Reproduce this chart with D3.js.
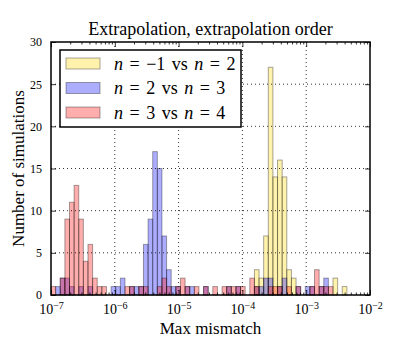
<!DOCTYPE html>
<html>
<head>
<meta charset="utf-8">
<script src="https://cdn.jsdelivr.net/npm/d3@7"></script>
<style>
  body { margin: 0; background: #fff; }
  svg text, svg tspan { font-family: "Liberation Serif", "DejaVu Serif", serif; }
</style>
</head>
<body>
<div id="chart"></div>
<script>
// histogram bins share one log grid: first edge 10^-7, step in decades
const binStart = -7;
const binStep = 5 / 69;

// counts per bin (index 0 = first bin)
const countsYellow = [0,0,0,0,0,0,0,0,0,0, 0,0,0,0,0,0,0,0,0,0,
                      0,0,0,0,0,0,0,0,0,0, 0,0,0,0,0,0,0,0,0,0,
                      0,0,0,0,3,2,7,27,14,16, 14,3,2,0,0,0,0,0,0,0,
                      0,2,0,1];
const countsBlue   = [0,1,2,2,1,0,1,0,1,0, 0,0,0,1,1,2,0,1,1,1,
                      6,9,17,15,7,3,1,1,0,1, 1,0,0,1,0,0,0,0,1,0,
                      1,0,0,0,1,1,2,2,0,1, 2,0,0,1,0,1,1,0,1,2,
                      0,0,0,0];
const countsRed    = [1,0,2,9,11,13,9,4,6,2, 1,1,0,0,0,0,1,1,0,1,
                      1,0,0,1,2,1,0,1,2,1, 0,1,0,1,0,1,0,1,1,1,
                      1,1,0,2,1,0,0,1,1,1, 0,1,0,1,0,0,1,3,1,1,
                      1,0,0,0];

const seriesNames = ["n = \u22121 vs n = 2", "n = 2 vs n = 3", "n = 3 vs n = 4"];
const seriesColors = ["#ffd700", "#0000ff", "#ff0000"];

const xTicks = [1e-7, 1e-6, 1e-5, 1e-4, 1e-3, 1e-2];
const yTicks = [0, 5, 10, 15, 20, 25, 30];

const serif = "Liberation Serif, DejaVu Serif, serif";

const W = 411, H = 337;
const margin = {top: 42, right: 41, bottom: 42, left: 51};
const width = W - margin.left - margin.right,
      height = H - margin.top - margin.bottom;

const svg = d3.select("#chart").append("svg")
    .attr("width", W)
    .attr("height", H)
    .attr("font-family", serif);

const g = svg.append("g")
    .attr("transform", "translate(" + margin.left + "," + margin.top + ")");

const x = d3.scaleLog().domain([1e-7, 1e-2]).range([0, width]);
const y = d3.scaleLinear().domain([0, 30]).range([height, 0]);

// bars
const allCounts = [countsYellow, countsBlue, countsRed];
allCounts.forEach(function(counts, si) {
    const bins = counts.map(function(c, i) {
        return {lo: Math.pow(10, binStart + i * binStep),
                hi: Math.pow(10, binStart + (i + 1) * binStep),
                c: c};
    }).filter(function(d) { return d.c > 0; });

    g.selectAll(".bar" + si)
        .data(bins)
        .enter()
        .append("rect")
        .attr("x", function(d) { return x(d.lo); })
        .attr("y", function(d) { return y(d.c); })
        .attr("width", function(d) { return x(d.hi) - x(d.lo); })
        .attr("height", function(d) { return y(0) - y(d.c); })
        .attr("fill", seriesColors[si])
        .attr("fill-opacity", 0.32)
        .attr("stroke", "#000")
        .attr("stroke-opacity", 0.35)
        .attr("stroke-width", 1);
});

// dotted grid
g.selectAll(".vgrid")
    .data(xTicks.slice(1, -1))
    .enter().append("line")
    .attr("x1", function(d) { return x(d); })
    .attr("x2", function(d) { return x(d); })
    .attr("y1", 0).attr("y2", height)
    .attr("stroke", "#000")
    .attr("stroke-width", 0.8)
    .attr("stroke-dasharray", "1,3");

g.selectAll(".hgrid")
    .data(yTicks.slice(1, -1))
    .enter().append("line")
    .attr("x1", 0).attr("x2", width)
    .attr("y1", function(d) { return y(d); })
    .attr("y2", function(d) { return y(d); })
    .attr("stroke", "#000")
    .attr("stroke-width", 0.8)
    .attr("stroke-dasharray", "1,3");

// minor ticks on log axis
const minorTicks = [];
xTicks.slice(0, -1).forEach(function(t) {
    for (let k = 2; k <= 9; k++) minorTicks.push(t * k);
});

function styleAxis(sel) {
    sel.attr("font-family", serif);
    sel.select(".domain").remove();
    sel.selectAll(".tick line").attr("stroke", "#000").attr("stroke-width", 0.8);
}

// bottom axis with labels
const xAxis = g.append("g")
    .attr("transform", "translate(0," + height + ")")
    .call(d3.axisBottom(x).tickValues(xTicks).tickSize(-5).tickPadding(6).tickFormat(""))
    .call(styleAxis);

xAxis.selectAll(".tick text").each(function(d) {
    const t = d3.select(this);
    t.text("")
        .attr("font-size", 14)
        .attr("fill", "#000")
        .attr("dy", "0.9em");
    t.append("tspan").text("10");
    t.append("tspan")
        .attr("dy", "-0.5em")
        .attr("font-size", 10)
        .text("\u2212" + Math.round(-Math.log10(d)));
});

g.append("g")
    .attr("transform", "translate(0," + height + ")")
    .call(d3.axisBottom(x).tickValues(minorTicks).tickSize(-2.5).tickFormat(""))
    .call(styleAxis);

g.append("g")
    .call(d3.axisTop(x).tickValues(xTicks).tickSize(-5).tickFormat(""))
    .call(styleAxis);

g.append("g")
    .call(d3.axisTop(x).tickValues(minorTicks).tickSize(-2.5).tickFormat(""))
    .call(styleAxis);

// left/right axes
g.append("g")
    .call(d3.axisLeft(y).tickValues(yTicks).tickSize(-5).tickPadding(9))
    .call(styleAxis)
    .selectAll("text")
    .attr("font-size", 12)
    .attr("fill", "#000");

g.append("g")
    .attr("transform", "translate(" + width + ",0)")
    .call(d3.axisRight(y).tickValues(yTicks).tickSize(-5).tickFormat(""))
    .call(styleAxis);

// frame
g.append("rect")
    .attr("width", width)
    .attr("height", height)
    .attr("fill", "none")
    .attr("stroke", "#000")
    .attr("stroke-width", 1.5);

// legend
const legend = g.append("g").attr("transform", "translate(9,8)");
legend.append("rect")
    .attr("width", 181)
    .attr("height", 77)
    .attr("fill", "#fff")
    .attr("stroke", "#000")
    .attr("stroke-width", 1.5);

seriesNames.forEach(function(name, i) {
    const row = legend.append("g").attr("transform", "translate(0," + (8 + i * 24.5) + ")");
    row.append("rect")
        .attr("x", 6).attr("width", 34).attr("height", 11)
        .attr("fill", seriesColors[i])
        .attr("fill-opacity", 0.32)
        .attr("stroke", "#000")
        .attr("stroke-opacity", 0.35);
    const txt = row.append("text")
        .attr("x", 54).attr("y", 11.5)
        .attr("font-size", 18)
        .attr("font-family", serif)
        .attr("word-spacing", 2)
        .attr("fill", "#000")
        .style("white-space", "pre");
    // italic n, upright everything else
    name.split(/(n)/).forEach(function(part) {
        if (part === "") return;
        const ts = txt.append("tspan").attr("font-family", serif).text(part);
        if (part === "n") ts.attr("font-style", "italic");
    });
});

// labels
svg.append("text")
    .attr("x", margin.left + width / 2)
    .attr("y", 35)
    .attr("text-anchor", "middle")
    .attr("font-size", 18)
    .text("Extrapolation, extrapolation order");

svg.append("text")
    .attr("x", margin.left + width / 2)
    .attr("y", 334)
    .attr("text-anchor", "middle")
    .attr("font-size", 17)
    .text("Max mismatch");

svg.append("text")
    .attr("transform", "translate(24," + (margin.top + height / 2) + ") rotate(-90)")
    .attr("text-anchor", "middle")
    .attr("font-size", 17)
    .text("Number of simulations");
</script>
</body>
</html>
